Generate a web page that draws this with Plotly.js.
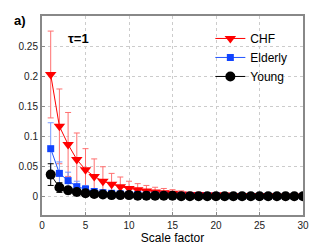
<!DOCTYPE html>
<html><head><meta charset="utf-8">
<script src="https://cdn.plot.ly/plotly-3.0.1.min.js"></script>
<style>html,body{margin:0;padding:0;background:#fff}#c{width:322px;height:245px}</style>
</head><body><div id="c"></div>
<script>
const scale = [1,2,3,4,5,6,7,8,9,10,11,12,13,14,15,16,17,18,19,20,21,22,23,24,25,26,27,28,29,30];
const chf = [0.203,0.117,0.087,0.062,0.045,0.034,0.026,0.021,0.017,0.014,0.012,0.010,0.008,0.007,0.006,0.005,0.004,0.004,0.003,0.003,0.003,0.002,0.002,0.002,0.002,0.002,0.001,0.001,0.001,0.001];
const chfErr = [0.072,0.062,0.053,0.044,0.035,0.029,0.024,0.018,0.016,0.012,0.010,0.009,0.008,0.007,0.006,0.005,0.004,0.004,0.003,0.003,0.003,0.002,0.002,0.002,0.002,0.002,0.001,0.001,0.001,0.001];
const elderly = [0.080,0.039,0.027,0.017,0.013,0.009,0.007,0.006,0.005,0.004,0.004,0.003,0.003,0.003,0.002,0.002,0.002,0.002,0.002,0.002,0.001,0.001,0.001,0.001,0.001,0.001,0.001,0.001,0.001,0.001];
const elderlyErr = [0.043,0.019,0.014,0.009,0.006,0.005,0.004,0.003,0.003,0.002,0.002,0.002,0.002,0.002,0.001,0.001,0.001,0.001,0.001,0.001,0.001,0.001,0.001,0.001,0.001,0.001,0.001,0.001,0.001,0.001];
const young = [0.037,0.0155,0.011,0.008,0.006,0.005,0.004,0.003,0.003,0.003,0.002,0.002,0.002,0.002,0.002,0.001,0.001,0.001,0.001,0.001,0.001,0.001,0.001,0.001,0.001,0.001,0.001,0.001,0.001,0.001];
const youngErr = [0.018,0.008,0.006,0.004,0.003,0.002,0.002,0.002,0.001,0.001,0.001,0.001,0.001,0.001,0.001,0.001,0.001,0.001,0.001,0.001,0.001,0.001,0.001,0.001,0.001,0.001,0.001,0.001,0.001,0.001];
const names = ['CHF','Elderly','Young'];

const traces = [
 {x:scale,y:chf,name:names[0],mode:'lines+markers',line:{color:'#ff0000',width:1},
  marker:{symbol:'triangle-down',size:10,color:'#ff0000'},
  error_y:{type:'data',array:chfErr,visible:true,color:'#ff7070',thickness:1,width:3}},
 {x:scale,y:elderly,name:names[1],mode:'lines+markers',line:{color:'#2255ff',width:1},
  marker:{symbol:'square',size:7,color:'#1144ff'},
  error_y:{type:'data',array:elderlyErr,visible:true,color:'#7799ff',thickness:1,width:3}},
 {x:scale,y:young,name:names[2],mode:'lines+markers',line:{color:'#000000',width:1},
  marker:{symbol:'circle',size:10,color:'#000000'},
  error_y:{type:'data',array:youngErr,visible:true,color:'#000000',thickness:1,width:3}}
];
const layout = {
 width:322,height:245,margin:{l:42,r:19,t:16,b:30},
 paper_bgcolor:'#fff',plot_bgcolor:'#fff',
 font:{family:'Liberation Sans, Arial, sans-serif',size:10,color:'#222'},
 showlegend:true,
 legend:{x:0.645,y:0.96,xanchor:'left',yanchor:'top',bgcolor:'rgba(255,255,255,0)',borderwidth:0,
   font:{size:12,color:'#000'},tracegroupgap:0,itemwidth:30},
 xaxis:{range:[0,30],tickvals:[0,5,10,15,20,25,30],showgrid:true,gridcolor:'#cccccc',griddash:'dot',
   zeroline:false,showline:true,mirror:true,linecolor:'#888',linewidth:2,ticks:'inside',ticklen:3,tickcolor:'#888',
   title:{text:'Scale factor',font:{size:12,color:'#000'},standoff:6}},
 yaxis:{range:[-0.03,0.3],tickvals:[0,0.05,0.1,0.15,0.2,0.25],ticktext:['0','0.05','0.1','0.15','0.2','0.25'],
   showgrid:true,gridcolor:'#cccccc',griddash:'dot',zeroline:false,showline:true,mirror:true,linecolor:'#888',linewidth:2,
   ticks:'inside',ticklen:3,tickcolor:'#888'},
 annotations:[
  {text:'<b>τ=1</b>',x:4.2,y:0.263,xref:'x',yref:'y',showarrow:false,font:{size:13,color:'#000'}},
  {text:'<b>a)</b>',x:-0.085,y:0.975,xref:'paper',yref:'paper',xanchor:'center',yanchor:'middle',showarrow:false,font:{size:13,color:'#000'}}
 ]
};
Plotly.newPlot('c',traces,layout,{displayModeBar:false,staticPlot:true});
</script></body></html>
